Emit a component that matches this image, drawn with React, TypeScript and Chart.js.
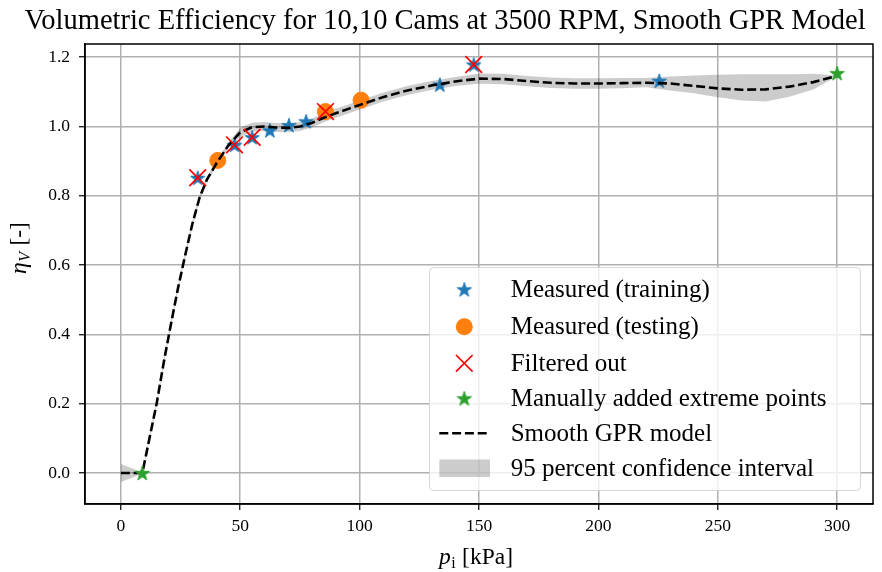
import React, { useEffect, useRef } from 'react';
import { Chart, registerables } from 'chart.js';

Chart.register(...registerables);

const TITLE = 'Volumetric Efficiency for 10,10 Cams at 3500 RPM, Smooth GPR Model';
const X_TICKS = [0, 50, 100, 150, 200, 250, 300];
const Y_TICKS = [0, 0.2, 0.4, 0.6, 0.8, 1.0, 1.2];
const LEGEND_LABELS = [
  'Measured (training)',
  'Measured (testing)',
  'Filtered out',
  'Manually added extreme points',
  'Smooth GPR model',
  '95 percent confidence interval',
];

const trainX = [32.2, 47.6, 55.0, 62.4, 70.4, 77.6, 133.6, 147.8, 225.5];
const trainY = [0.852, 0.947, 0.969, 0.989, 1.004, 1.015, 1.121, 1.179, 1.132];
const testX = [40.6, 85.7, 100.6];
const testY = [0.902, 1.043, 1.076];
const filtX = [32.2, 47.6, 55.0, 85.7, 147.8];
const filtY = [0.852, 0.947, 0.969, 1.043, 1.179];
const manX = [9, 300];
const manY = [0, 1.154];

const gprX = [0, 3, 6, 9, 12, 15, 18, 21, 24, 27, 30, 33, 36, 40, 45, 50, 55, 60, 65, 70, 75, 80, 85, 90, 95, 100,
  110, 120, 130, 140, 150, 160, 170, 180, 190, 200, 210, 220, 230, 240, 250, 260, 270, 280, 290, 300];
const gprY = [0, 0, 0, 0, 0.100, 0.200, 0.320, 0.430, 0.535, 0.630, 0.720, 0.795, 0.846, 0.893, 0.945, 0.983, 0.998,
  1.000, 0.997, 0.996, 1.000, 1.010, 1.025, 1.038, 1.050, 1.062, 1.085, 1.104, 1.118, 1.130, 1.138, 1.137, 1.131,
  1.126, 1.124, 1.124, 1.125, 1.126, 1.124, 1.117, 1.110, 1.106, 1.107, 1.115, 1.128, 1.146];
const ciHigh = [0.026, 0.018, 0.010, 0.002, 0.108, 0.208, 0.328, 0.438, 0.543, 0.638, 0.728, 0.803, 0.854, 0.901,
  0.953, 0.996, 1.011, 1.013, 1.010, 1.009, 1.013, 1.023, 1.038, 1.051, 1.063, 1.075, 1.098, 1.117, 1.131, 1.143,
  1.153, 1.152, 1.146, 1.141, 1.139, 1.139, 1.140, 1.140, 1.144, 1.147, 1.149, 1.151, 1.151, 1.151, 1.152, 1.147];
const ciLow = [-0.026, -0.018, -0.010, -0.002, 0.092, 0.192, 0.312, 0.422, 0.527, 0.622, 0.712, 0.787, 0.838, 0.885,
  0.937, 0.970, 0.985, 0.987, 0.984, 0.983, 0.987, 0.997, 1.012, 1.025, 1.037, 1.049, 1.072, 1.091, 1.105, 1.117,
  1.123, 1.122, 1.116, 1.111, 1.109, 1.109, 1.110, 1.113, 1.104, 1.096, 1.084, 1.075, 1.072, 1.086, 1.107, 1.145];

const BLUE = '#1f77b4';
const ORANGE = '#ff7f0e';
const GREEN = '#2ca02c';
const BAND = 'rgba(0,0,0,0.2)';
const FONT = '"Liberation Serif", "Times New Roman", serif';
const DASH = [9, 3.8];
const PLOT_RIGHT = 873;

const pts = (xs: number[], ys: number[]) => xs.map((x, i) => ({ x, y: ys[i] }));

function makeStar(color: string, R: number): HTMLCanvasElement {
  const size = Math.ceil(R * 2 + 4);
  const c = document.createElement('canvas');
  c.width = size;
  c.height = size;
  const g = c.getContext('2d')!;
  const cx = size / 2;
  const cy = size / 2 + R * 0.1;
  const r = R * 0.382;
  g.beginPath();
  for (let i = 0; i < 10; i++) {
    const rad = i % 2 === 0 ? R : r;
    const a = -Math.PI / 2 + (i * Math.PI) / 5;
    const px = cx + rad * Math.cos(a);
    const py = cy + rad * Math.sin(a);
    if (i === 0) g.moveTo(px, py);
    else g.lineTo(px, py);
  }
  g.closePath();
  g.fillStyle = color;
  g.fill();
  g.lineWidth = 1;
  g.strokeStyle = color;
  g.stroke();
  return c;
}

function drawCross(ctx: CanvasRenderingContext2D, x: number, y: number, h: number) {
  ctx.beginPath();
  ctx.moveTo(x - h, y - h);
  ctx.lineTo(x + h, y + h);
  ctx.moveTo(x + h, y - h);
  ctx.lineTo(x - h, y + h);
  ctx.strokeStyle = 'red';
  ctx.lineWidth = 1.7;
  ctx.stroke();
}

export default function App() {
  const ref = useRef<HTMLCanvasElement | null>(null);

  useEffect(() => {
    if (!ref.current) return;
    const blueStar = makeStar(BLUE, 7.6);
    const greenStar = makeStar(GREEN, 7.6);

    const fixArea = {
      id: 'fixArea',
      afterLayout(chart: any) {
        const ca = chart.chartArea;
        ca.right = PLOT_RIGHT;
        ca.width = ca.right - ca.left;
        const x = chart.scales.x;
        x.right = PLOT_RIGHT;
        x.width = PLOT_RIGHT - x.left;
        if (typeof x.configure === 'function') x.configure();
      },
    };

    const decor = {
      id: 'decor',
      afterDraw(chart: any) {
        const ctx: CanvasRenderingContext2D = chart.ctx;
        const a = chart.chartArea;
        ctx.save();
        // frame
        ctx.strokeStyle = '#000';
        ctx.lineWidth = 1.5;
        ctx.strokeRect(a.left, a.top, a.right - a.left, a.bottom - a.top);

        // x-axis label: p_i [kPa]
        ctx.fillStyle = '#000';
        ctx.textBaseline = 'alphabetic';
        ctx.textAlign = 'left';
        const big = 23.5;
        const small = 16;
        {
          const fP = `italic ${big}px ${FONT}`;
          const fI = `${small}px ${FONT}`;
          const fR = `${big}px ${FONT}`;
          ctx.font = fP;
          const wP = ctx.measureText('p').width;
          ctx.font = fI;
          const wI = ctx.measureText('i').width;
          ctx.font = fR;
          const wR = ctx.measureText(' [kPa]').width;
          const total = wP + wI + 1 + wR;
          let x = 476 - total / 2;
          const y = 564;
          ctx.font = fP;
          ctx.fillText('p', x, y);
          x += wP + 0.5;
          ctx.font = fI;
          ctx.fillText('i', x, y + 4);
          x += wI + 0.5;
          ctx.font = fR;
          ctx.fillText(' [kPa]', x, y);
        }
        // y-axis label: eta_V [-]
        {
          ctx.save();
          ctx.translate(26, 248);
          ctx.rotate(-Math.PI / 2);
          const fE = `italic ${big}px ${FONT}`;
          const fV = `italic ${small}px ${FONT}`;
          const fR = `${big}px ${FONT}`;
          ctx.font = fE;
          const wE = ctx.measureText('η').width;
          ctx.font = fV;
          const wV = ctx.measureText('V').width;
          ctx.font = fR;
          const wR = ctx.measureText(' [-]').width;
          const total = wE + wV + 1 + wR;
          let x = -total / 2;
          ctx.font = fE;
          ctx.fillText('η', x, 0);
          x += wE + 0.5;
          ctx.font = fV;
          ctx.fillText('V', x, 4);
          x += wV + 0.5;
          ctx.font = fR;
          ctx.fillText(' [-]', x, 0);
          ctx.restore();
        }

        // legend
        const bx = 429.5, by = 267.5, bw = 431, bh = 223, rr = 4;
        ctx.beginPath();
        ctx.moveTo(bx + rr, by);
        ctx.lineTo(bx + bw - rr, by);
        ctx.arcTo(bx + bw, by, bx + bw, by + rr, rr);
        ctx.lineTo(bx + bw, by + bh - rr);
        ctx.arcTo(bx + bw, by + bh, bx + bw - rr, by + bh, rr);
        ctx.lineTo(bx + rr, by + bh);
        ctx.arcTo(bx, by + bh, bx, by + bh - rr, rr);
        ctx.lineTo(bx, by + rr);
        ctx.arcTo(bx, by, bx + rr, by, rr);
        ctx.closePath();
        ctx.fillStyle = 'rgba(255,255,255,0.8)';
        ctx.fill();
        ctx.strokeStyle = 'rgba(204,204,204,0.8)';
        ctx.lineWidth = 1;
        ctx.stroke();

        const rows = [289.3, 326.7, 363.3, 398.3, 433.3, 468.3];
        const mx = 464.3;
        ctx.drawImage(blueStar, mx - blueStar.width / 2, rows[0] - blueStar.height / 2);
        ctx.beginPath();
        ctx.arc(mx, rows[1], 8.5, 0, Math.PI * 2);
        ctx.fillStyle = ORANGE;
        ctx.fill();
        drawCross(ctx, mx, rows[2], 8.3);
        ctx.drawImage(greenStar, mx - greenStar.width / 2, rows[3] - greenStar.height / 2);
        ctx.beginPath();
        ctx.setLineDash(DASH);
        ctx.moveTo(439.3, rows[4]);
        ctx.lineTo(490, rows[4]);
        ctx.strokeStyle = '#000';
        ctx.lineWidth = 2.6;
        ctx.stroke();
        ctx.setLineDash([]);
        ctx.fillStyle = BAND;
        ctx.fillRect(439.3, 459.5, 50.7, 17.5);

        ctx.fillStyle = '#000';
        ctx.font = `25px ${FONT}`;
        ctx.textBaseline = 'middle';
        ctx.textAlign = 'left';
        LEGEND_LABELS.forEach((t, i) => ctx.fillText(t, 510.7, rows[i] + 1));
        ctx.restore();
      },
    };

    const tickFont = { family: FONT, size: 17.5, weight: 'normal' as const };

    const chart = new Chart(ref.current, {
      type: 'line',
      data: {
        datasets: [
          {
            label: 'ciHigh',
            data: pts(gprX, ciHigh),
            borderWidth: 0,
            pointRadius: 0,
            backgroundColor: BAND,
            fill: '+1',
            tension: 0,
            order: 10,
          },
          {
            label: 'ciLow',
            data: pts(gprX, ciLow),
            borderWidth: 0,
            pointRadius: 0,
            fill: false,
            tension: 0,
            order: 10,
          },
          {
            label: LEGEND_LABELS[0],
            data: pts(trainX, trainY),
            showLine: false,
            pointStyle: blueStar as any,
            order: 6,
          },
          {
            label: LEGEND_LABELS[1],
            data: pts(testX, testY),
            showLine: false,
            pointStyle: 'circle',
            pointRadius: 8,
            pointBackgroundColor: ORANGE,
            pointBorderColor: ORANGE,
            pointBorderWidth: 1,
            order: 5,
          },
          {
            label: LEGEND_LABELS[4],
            data: pts(gprX, gprY),
            borderColor: '#000',
            borderWidth: 2.6,
            borderDash: DASH,
            pointRadius: 0,
            fill: false,
            tension: 0,
            order: 4,
          },
          {
            label: LEGEND_LABELS[2],
            data: pts(filtX, filtY),
            showLine: false,
            pointStyle: 'crossRot',
            pointRadius: 11.8,
            pointBorderColor: 'red',
            pointBorderWidth: 1.7,
            order: 3,
          },
          {
            label: LEGEND_LABELS[3],
            data: pts(manX, manY),
            showLine: false,
            pointStyle: greenStar as any,
            order: 2,
          },
        ],
      },
      options: {
        responsive: false,
        animation: false,
        events: [],
        layout: { padding: { left: 8, right: 0, top: 0, bottom: 0 } },
        plugins: {
          legend: { display: false },
          tooltip: { enabled: false },
          title: {
            display: true,
            text: TITLE,
            color: '#000',
            font: { family: FONT, size: 28.5, weight: 'normal' },
            padding: { top: 4, bottom: 5.8 },
          },
        },
        scales: {
          x: {
            type: 'linear',
            min: -15,
            max: 315,
            afterBuildTicks: (s: any) => {
              s.ticks = X_TICKS.map((v) => ({ value: v }));
            },
            afterFit: (s: any) => {
              s.height = 68;
              s.paddingLeft = 0;
              s.paddingRight = 0;
            },
            grid: { color: '#b0b0b0', lineWidth: 1.5, tickColor: '#000', tickLength: 6, tickWidth: 1.2 },
            border: { color: '#000', width: 1.5 },
            ticks: {
              color: '#000',
              font: tickFont,
              padding: 6,
              maxRotation: 0,
              autoSkip: false,
              callback: (v: any) => String(v),
            },
          },
          y: {
            type: 'linear',
            min: -0.0895,
            max: 1.238,
            afterBuildTicks: (s: any) => {
              s.ticks = Y_TICKS.map((v) => ({ value: v }));
            },
            afterFit: (s: any) => {
              s.width = 77;
              s.paddingTop = 0;
              s.paddingBottom = 0;
            },
            grid: { color: '#b0b0b0', lineWidth: 1.5, tickColor: '#000', tickLength: 6, tickWidth: 1.2 },
            border: { color: '#000', width: 1.5 },
            ticks: {
              color: '#000',
              font: tickFont,
              padding: 9,
              autoSkip: false,
              callback: (v: any) => Number(v).toFixed(1),
            },
          },
        },
      },
      plugins: [fixArea, decor],
    } as any);

    return () => chart.destroy();
  }, []);

  return (
    <div style={{ position: 'fixed', left: 0, top: 0, width: 882, height: 572, background: '#fff' }}>
      <canvas ref={ref} width={882} height={572} style={{ width: 882, height: 572, display: 'block' }} />
    </div>
  );
}
